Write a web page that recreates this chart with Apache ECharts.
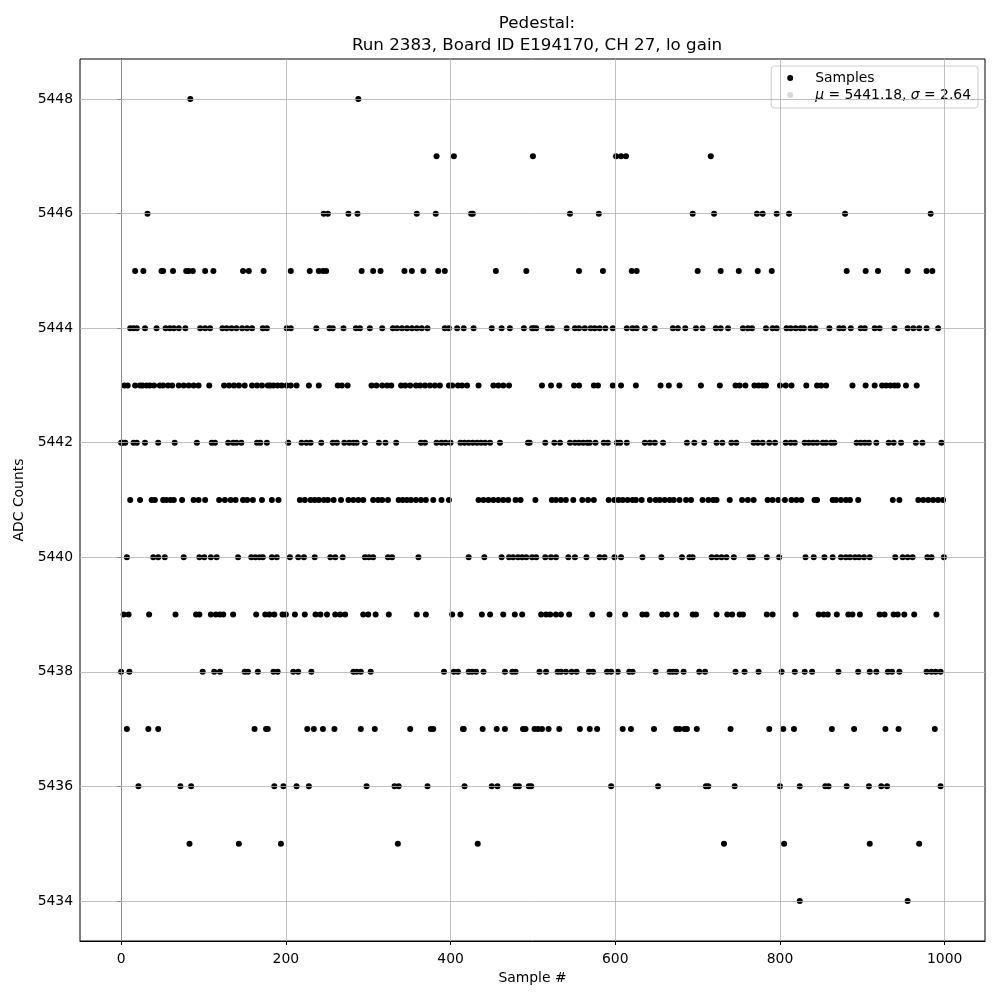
<!DOCTYPE html>
<html>
<head>
<meta charset="utf-8">
<script src="https://cdn.jsdelivr.net/npm/echarts@6/dist/echarts.min.js"></script>
<style>html,body{margin:0;padding:0;background:#fff}#c{width:1000px;height:1000px}</style>
</head>
<body>
<div id="c"></div>
<script>
const idx5448 = [84, 288];
const idx5447 = [383, 404, 500, 601, 607, 613, 716];
const idx5446 = [32, 246, 251, 276, 287, 359, 382, 425, 427, 545, 580, 694, 720, 772, 779, 796, 811, 879, 983];
const idx5445 = [17, 27, 49, 51, 63, 79, 82, 87, 102, 112, 148, 155, 173, 206, 229, 240, 245, 249, 292, 306, 315, 344, 353, 367, 385, 393, 455, 492, 556, 585, 620, 626, 700, 728, 750, 773, 790, 881, 904, 919, 955, 978, 985];
const idx5444 = [11, 15, 19, 29, 43, 54, 59, 64, 70, 78, 96, 102, 108, 123, 128, 134, 140, 147, 153, 159, 172, 177, 201, 206, 237, 253, 257, 270, 285, 290, 302, 317, 330, 335, 341, 347, 353, 359, 365, 372, 393, 398, 408, 416, 428, 450, 462, 472, 489, 499, 501, 504, 518, 523, 541, 551, 556, 563, 570, 575, 581, 588, 597, 614, 621, 626, 636, 648, 670, 676, 685, 698, 706, 722, 728, 737, 755, 761, 766, 783, 791, 796, 808, 813, 819, 825, 829, 837, 843, 860, 872, 877, 886, 898, 903, 915, 921, 939, 955, 962, 969, 978, 992];
const idx5443 = [4, 8, 17, 23, 26, 31, 35, 40, 47, 51, 57, 62, 70, 76, 82, 88, 94, 107, 125, 131, 137, 143, 150, 159, 165, 171, 178, 181, 185, 190, 195, 201, 206, 213, 228, 240, 263, 268, 275, 304, 310, 317, 323, 328, 340, 345, 351, 358, 363, 369, 375, 381, 387, 398, 402, 409, 414, 420, 434, 452, 458, 464, 471, 511, 522, 532, 550, 556, 574, 579, 597, 607, 625, 655, 665, 678, 704, 727, 746, 751, 758, 769, 774, 779, 783, 800, 807, 814, 832, 845, 850, 856, 888, 904, 915, 924, 929, 934, 939, 943, 953, 966];
const idx5442 = [0, 2, 5, 15, 19, 29, 45, 65, 92, 110, 114, 130, 136, 140, 146, 165, 169, 177, 203, 219, 225, 230, 243, 257, 262, 271, 277, 282, 286, 296, 313, 321, 334, 364, 369, 383, 389, 394, 400, 412, 417, 422, 427, 432, 437, 442, 448, 460, 494, 496, 515, 526, 533, 545, 551, 556, 561, 566, 569, 576, 586, 591, 602, 606, 614, 636, 642, 648, 658, 687, 696, 708, 723, 730, 741, 747, 768, 773, 779, 787, 794, 807, 813, 818, 830, 835, 840, 845, 852, 856, 862, 866, 893, 898, 903, 908, 917, 932, 938, 947, 965, 973, 996];
const idx5441 = [11, 23, 37, 41, 51, 55, 60, 64, 74, 88, 94, 102, 119, 126, 133, 139, 148, 153, 160, 171, 183, 191, 217, 223, 230, 235, 240, 246, 251, 258, 267, 276, 282, 288, 294, 306, 312, 317, 324, 337, 342, 347, 352, 358, 364, 370, 379, 389, 398, 434, 440, 446, 452, 458, 464, 470, 479, 485, 503, 523, 528, 534, 540, 549, 560, 567, 574, 592, 599, 604, 609, 615, 621, 625, 632, 642, 649, 654, 660, 666, 671, 678, 686, 692, 706, 713, 719, 723, 739, 754, 761, 768, 785, 791, 798, 806, 814, 820, 826, 842, 845, 864, 868, 874, 880, 885, 895, 937, 945, 968, 974, 980, 986, 992, 998];
const idx5440 = [7, 39, 45, 53, 76, 95, 101, 109, 116, 142, 158, 163, 168, 172, 183, 189, 205, 215, 222, 235, 254, 260, 269, 296, 301, 306, 324, 329, 361, 422, 441, 462, 471, 476, 482, 487, 492, 499, 504, 515, 522, 528, 543, 551, 565, 581, 587, 599, 607, 633, 656, 681, 690, 694, 717, 723, 729, 735, 744, 763, 767, 784, 799, 831, 841, 854, 864, 874, 880, 885, 891, 896, 902, 909, 940, 949, 955, 961, 979, 984, 999];
const idx5439 = [3, 9, 34, 66, 91, 95, 109, 115, 120, 124, 136, 164, 175, 180, 186, 196, 200, 211, 223, 236, 242, 250, 260, 266, 272, 294, 300, 309, 325, 359, 370, 402, 412, 438, 448, 464, 478, 487, 510, 516, 521, 528, 534, 544, 572, 593, 612, 633, 638, 657, 663, 674, 694, 698, 723, 736, 742, 751, 755, 784, 791, 819, 847, 853, 858, 869, 883, 888, 897, 921, 927, 938, 943, 951, 963, 990];
const idx5438 = [0, 10, 99, 113, 120, 150, 154, 166, 185, 190, 209, 215, 231, 282, 286, 291, 303, 392, 404, 409, 422, 426, 431, 440, 466, 475, 479, 508, 516, 530, 534, 540, 547, 553, 568, 573, 590, 595, 603, 617, 621, 649, 666, 670, 674, 683, 702, 709, 746, 757, 774, 802, 818, 830, 839, 871, 895, 909, 917, 931, 936, 945, 978, 984, 989, 995];
const idx5437 = [7, 33, 45, 162, 176, 178, 226, 234, 245, 259, 291, 308, 351, 376, 379, 415, 416, 439, 456, 466, 488, 491, 502, 506, 511, 519, 532, 557, 569, 578, 609, 619, 647, 674, 678, 684, 687, 699, 740, 787, 804, 817, 863, 890, 928, 944, 988];
const idx5436 = [21, 72, 85, 186, 197, 213, 228, 298, 332, 337, 372, 417, 450, 457, 479, 483, 495, 498, 595, 652, 710, 713, 745, 800, 824, 855, 859, 881, 908, 923, 930, 995];
const idx5435 = [83, 143, 194, 336, 433, 732, 805, 909, 969];
const idx5434 = [824, 955];

const levels = [5434, 5435, 5436, 5437, 5438, 5439, 5440, 5441, 5442, 5443, 5444, 5445, 5446, 5447, 5448];
const levelIdx = [idx5434, idx5435, idx5436, idx5437, idx5438, idx5439, idx5440, idx5441, idx5442, idx5443, idx5444, idx5445, idx5446, idx5447, idx5448];

const xTicks = [0, 200, 400, 600, 800, 1000];
const yTicks = [5434, 5436, 5438, 5440, 5442, 5444, 5446, 5448];
const titleLines = ['Pedestal:', 'Run 2383, Board ID E194170, CH 27, lo gain'];
const meanVal = 5441.18;
const sigmaVal = 2.64;

const points = [];
levels.forEach((lv, i) => levelIdx[i].forEach(s => points.push([s, lv])));

const FONT = 'DejaVu Sans';
const chart = echarts.init(document.getElementById('c'), null, {renderer: 'canvas'});

const gridLines = [];
xTicks.forEach(v => gridLines.push({xAxis: v}));
yTicks.forEach(v => gridLines.push({yAxis: v}));

chart.setOption({
  animation: false,
  backgroundColor: '#ffffff',
  title: {
    text: titleLines.join('\n'),
    left: 532, top: 8, textAlign: 'center',
    textStyle: {fontFamily: FONT, fontSize: 16.7, fontWeight: 'normal', color: '#000', lineHeight: 22}
  },
  legend: {
    data: ['Samples', 'stats'],
    orient: 'vertical',
    right: 22, top: 66,
    itemWidth: 40, itemHeight: 6, itemGap: 3,
    padding: [5, 7, 6, 16],
    backgroundColor: '#ffffff',
    borderColor: '#cccccc', borderWidth: 1, borderRadius: 3,
    textStyle: {fontFamily: FONT, fontSize: 13.9, color: '#000',
      rich: {i: {fontFamily: FONT, fontSize: 13.9, fontStyle: 'italic', color: '#000'}}},
    formatter: function (name) {
      if (name === 'Samples') return 'Samples';
      return '{i|μ} = ' + meanVal.toFixed(2) + ', {i|σ} = ' + sigmaVal.toFixed(2);
    }
  },
  grid: {left: 80, right: 15, top: 59, bottom: 59, containLabel: false, outerBoundsMode: 'none',
    show: true, borderColor: '#000', borderWidth: 1, backgroundColor: 'transparent'},
  xAxis: {
    type: 'value', min: -49.95, max: 1048.95,
    name: 'Sample #', nameLocation: 'middle', nameGap: 28,
    nameTextStyle: {fontFamily: FONT, fontSize: 13.9, color: '#000'},
    axisLine: {show: true, lineStyle: {color: '#000', width: 1}},
    axisTick: {show: true, length: 4, lineStyle: {color: '#000'}, customValues: xTicks},
    axisLabel: {fontFamily: FONT, fontSize: 13.9, color: '#000', margin: 11, customValues: xTicks,
      formatter: v => String(v)},
    splitLine: {show: false}
  },
  yAxis: {
    type: 'value', min: 5433.3, max: 5448.7,
    name: 'ADC Counts', nameLocation: 'middle', nameGap: 49,
    nameTextStyle: {fontFamily: FONT, fontSize: 13.9, color: '#000'},
    axisLine: {show: true, lineStyle: {color: '#000', width: 1}},
    axisTick: {show: true, length: 4, lineStyle: {color: '#000'}, customValues: yTicks},
    axisLabel: {fontFamily: FONT, fontSize: 13.9, color: '#000', margin: 7, customValues: yTicks,
      formatter: v => String(v)},
    splitLine: {show: false}
  },
  series: [
    {
      name: 'grid', type: 'scatter', data: [], z: 1, silent: true,
      markLine: {
        silent: true, symbol: ['none', 'none'], animation: false,
        label: {show: false},
        lineStyle: {color: '#b0b0b0', width: 0.8, type: 'solid'},
        emphasis: {disabled: true},
        data: gridLines
      }
    },
    {
      name: 'Samples', type: 'scatter', data: points, z: 3,
      symbol: 'circle', symbolSize: 6,
      itemStyle: {color: '#000', opacity: 1}
    },
    {
      name: 'stats', type: 'scatter', data: [], symbolSize: 5,
      itemStyle: {color: '#d0d0d0'}
    }
  ]
});
</script>
</body>
</html>
